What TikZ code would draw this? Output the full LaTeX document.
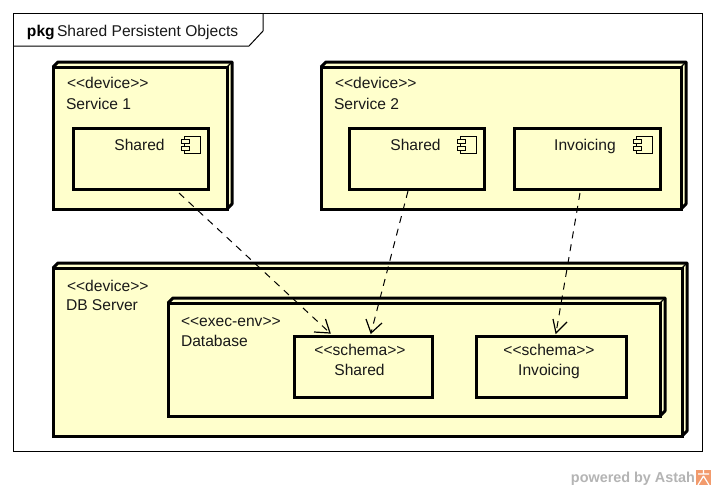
\documentclass[tikz,border=0pt]{standalone}
\usepackage{fontspec}
\setmainfont{Liberation Sans}
\definecolor{ny}{HTML}{FFFFCC}
\definecolor{wm}{HTML}{B4B4B4}
\definecolor{lg}{HTML}{F0A080}
\tikzset{
 every node/.style={outer sep=0pt},
 txt/.style={inner sep=0pt,anchor=base west,font=\fontsize{15.6}{17}\selectfont,text=black!90},
 stxt/.style={inner sep=0pt,anchor=base west,font=\fontsize{15.6}{17}\selectfont,text=black!90},
 ctxt/.style={inner sep=0pt,anchor=base,font=\fontsize{15.6}{17}\selectfont,text=black!90},
 cstxt/.style={inner sep=0pt,anchor=base,font=\fontsize{15.6}{17}\selectfont,text=black!90},
 boxl/.style={draw=black,line width=3pt,fill=ny,line join=miter},
 conn/.style={draw=black,line width=1pt,dash pattern=on 7pt off 6pt},
 headl/.style={draw=black,line width=1.2pt},
}
% name, x1,y1,x2,y2, depth
\newcommand{\devbox}[6]{%
 \fill[ny] (#2,#3) -- ++(#6,-#6) -- (#4+#6,#3-#6) -- (#4+#6,#5-#6) -- (#4,#5) -- (#2,#5) -- cycle;
 \draw[black,line width=3pt,line join=round] (#2,#3) -- ++(#6,-#6) -- (#4+#6,#3-#6) -- (#4+#6,#5-#6) -- (#4,#5);
 \draw[black,line width=1.4pt] (#4,#3) -- (#4+#6,#3-#6);
 \node[boxl,inner sep=0pt,anchor=north west,minimum width=#4pt-#2pt,minimum height=#5pt-#3pt] (#1) at (#2,#3) {};
}
\newcommand{\cicon}[2]{%
 \draw[black,line width=1pt,fill=ny] (#1+3,#2) rectangle (#1+19,#2+17);
 \draw[black,line width=1pt,fill=ny] (#1,#2+3) rectangle (#1+8,#2+7);
 \draw[black,line width=1pt,fill=ny] (#1,#2+10) rectangle (#1+8,#2+14);
}
\begin{document}
\begin{tikzpicture}[x=1pt,y=-1pt]
\useasboundingbox (0,0) rectangle (716,490);
\fill[white] (0,0) rectangle (716,490);
\node[draw=black,line width=1pt,fill=white,inner sep=0pt,anchor=north west,minimum width=689pt,minimum height=438pt] (frame) at (13.5,13.5) {};
\coordinate (tabA) at (13.5,46);
\coordinate (tabB) at (249,46);
\coordinate (tabC) at (263,31);
\coordinate (tabD) at (263,13.5);
\draw[black,line width=1pt] (tabA) -- (tabB) -- (tabC) -- (tabD);
\node[inner sep=0pt,anchor=base west,font=\fontsize{15.6}{17}\selectfont\bfseries] (pkg) at (27,36) {pkg};
\node[txt] (title) at (57,36) {Shared Persistent Objects};

\devbox{s1}{53}{67}{227}{209}{5}
\devbox{s2}{321}{67}{681}{209}{5}
\devbox{db}{53}{268}{682}{436}{5}
\devbox{ee}{168}{303}{660}{416}{5}

\node[boxl,inner sep=0pt,anchor=north west,minimum width=135pt,minimum height=61pt] (c1) at (73,128) {};
\node[boxl,inner sep=0pt,anchor=north west,minimum width=135pt,minimum height=61pt] (c2) at (349.5,128) {};
\node[boxl,inner sep=0pt,anchor=north west,minimum width=146pt,minimum height=61pt] (c3) at (514.5,128) {};
\node[boxl,inner sep=0pt,anchor=north west,minimum width=138pt,minimum height=61pt] (d1) at (294,336) {};
\node[boxl,inner sep=0pt,anchor=north west,minimum width=150pt,minimum height=61pt] (d2) at (476,336) {};

\cicon{181.5}{136.5}
\cicon{457.5}{136.5}
\cicon{633.5}{136.5}

\node[stxt] (s1a) at (67,88.5) {{<}{<}device{>}{>}};
\node[txt] (s1b) at (66,109) {Service 1};
\node[ctxt] (c1t) at (139.5,150) {Shared};
\node[stxt] (s2a) at (335,88.5) {{<}{<}device{>}{>}};
\node[txt] (s2b) at (334,109) {Service 2};
\node[ctxt] (c2t) at (415.5,150) {Shared};
\node[ctxt] (c3t) at (585,150) {Invoicing};
\node[stxt] (dba) at (67,291) {{<}{<}device{>}{>}};
\node[txt] (dbb) at (66,310) {DB Server};
\node[stxt] (eea) at (181,326) {{<}{<}exec-env{>}{>}};
\node[txt] (eeb) at (181,346) {Database};
\node[cstxt] (d1a) at (360,355) {{<}{<}schema{>}{>}};
\node[ctxt] (d1b) at (359.5,375) {Shared};
\node[cstxt] (d2a) at (549,355) {{<}{<}schema{>}{>}};
\node[ctxt] (d2b) at (549,375) {Invoicing};

\coordinate (e1s) at (179,193);
\coordinate (e1e) at (330,333);
\coordinate (e2s) at (408,191);
\coordinate (e2e) at (371,333);
\coordinate (e3s) at (580,193);
\coordinate (e3e) at (556,333);
\draw[conn] (e1s) -- (e1e);
\draw[conn] (e2s) -- (e2e);
\draw[conn] (e3s) -- (e3e);
\draw[headl] (325.5,319) -- (e1e) -- (314,332);
\draw[headl] (366,319) -- (e2e) -- (382,323);
\draw[headl] (553,319) -- (e3e) -- (567,322);

\node[inner sep=0pt,anchor=base east,font=\fontsize{14.4}{16}\selectfont\bfseries,text=wm] (wm) at (695,482) {powered by Astah};
\fill[lg!85!orange] (696,470) rectangle (711,485);
\draw[white,line width=1.2pt] (698,474) -- (709,474) (703.5,470) -- (703.5,474) (703.5,476) -- (698,485) (703.5,476) -- (709,485);
\end{tikzpicture}
\end{document}
